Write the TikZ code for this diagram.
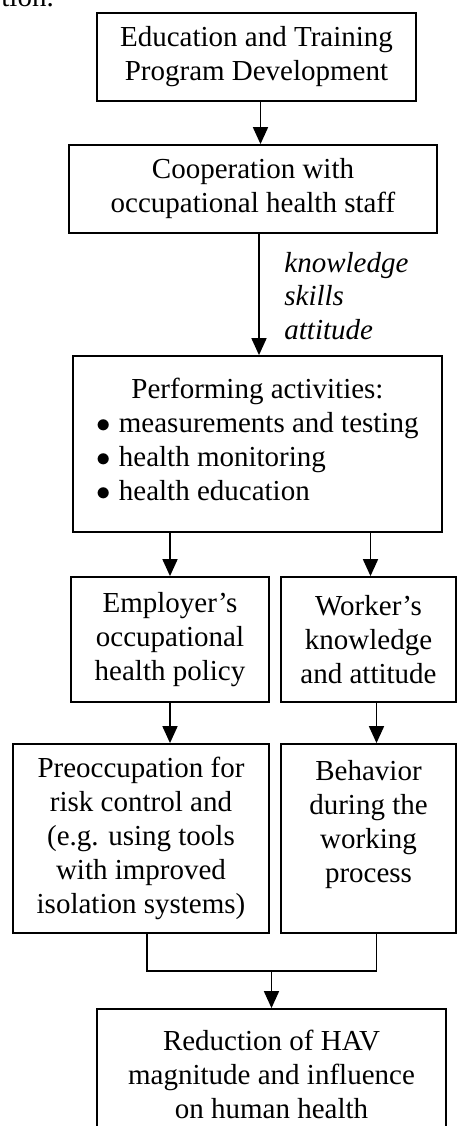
\documentclass[tikz,border=0pt]{standalone}
\usepackage{fontspec}
\setmainfont{Liberation Serif}
\usetikzlibrary{arrows.meta, positioning}

\begin{document}
\begin{tikzpicture}[x=0.5pt, y=-0.5pt,
      box/.style={draw, line width=0.9pt, align=center, inner sep=0pt,
                  font=\fontsize{14.5}{17}\selectfont},
      >={Triangle[length=8.5pt, width=7.5pt]}]
    \useasboundingbox (0,0) rectangle (457,1126);
    \clip (0,0) rectangle (457,1126);
    % tail of the sentence above the chart
    \node[anchor=base west, inner sep=0pt, font=\fontsize{14.5}{17}\selectfont]
      (prevtxt) at (1,6) {tion.};
    % main column
    \node[box, minimum width=159.5pt, minimum height=44pt] (edu) at (256.5,57)
      {Education and Training\\Program Development};
    \node[box, minimum width=184pt, minimum height=44pt] (coop) at (253,189)
      {Cooperation with\\occupational health staff};
    \node[box, minimum width=184.5pt, minimum height=88pt] (activ) at (257.5,444)
      {Performing activities:\\
       \begin{tabular}[t]{@{}l@{}}
       $\bullet$\hspace{4pt}measurements and testing\\
       $\bullet$\hspace{4pt}health monitoring\\
       $\bullet$\hspace{4pt}health education
       \end{tabular}};
    % two branches
    \node[box, minimum width=99pt, minimum height=62.5pt] (policy) at (170,639.5)
      {Employer’s\\occupational\\health policy};
    \node[box, minimum width=87.5pt, minimum height=62.5pt] (attit) at (368.5,639.5)
      {Worker’s\\knowledge\\and attitude};
    \node[box, minimum width=128pt, minimum height=94.5pt] (riskctl) at (141,838.5)
      {Preoccupation for\\risk control and\\(e.g. using tools\\with improved\\isolation systems)};
    \node[box, minimum width=87.5pt, minimum height=94.5pt] (behav) at (368.5,838.5)
      {Behavior\\during the\\working\\process\\\mbox{}};
    \node[box, minimum width=174.5pt, minimum height=65.5pt] (reduct) at (271.5,1074.5)
      {Reduction of HAV\\magnitude and influence\\on human health};
    % label beside the second arrow (base = last line)
    \node[anchor=base west, inner sep=0pt, align=left,
          font=\fontsize{14.5}{16.75}\selectfont\itshape] (kskills) at (284,339)
      {knowledge\\skills\\attitude};

    \draw[line width=0.9pt, ->] ([xshift=2pt]edu.south) -- ([xshift=2pt]edu.south |- coop.north);
    \draw[line width=0.9pt, ->] ([xshift=3pt]coop.south) -- ([xshift=3pt]coop.south |- activ.north);
    \draw[line width=0.9pt, ->] (policy.north |- activ.south) -- (policy.north);
    \draw[line width=0.9pt, ->] ([xshift=1pt]attit.north |- activ.south) -- ([xshift=1pt]attit.north);
    \draw[line width=0.9pt, ->] (policy.south) -- (policy.south |- riskctl.north);
    \draw[line width=0.9pt, ->] ([xshift=4pt]attit.south) -- ([xshift=4pt]attit.south |- behav.north);
    % both lower boxes merge into the last one
    \coordinate (join) at ([yshift=18.5pt]reduct.north);
    \draw[line width=0.9pt] ([xshift=3pt]riskctl.south) |- (join) -| ([xshift=4pt]behav.south);
    \draw[line width=0.9pt, ->] (join) -- (reduct.north);
\end{tikzpicture}
\end{document}
